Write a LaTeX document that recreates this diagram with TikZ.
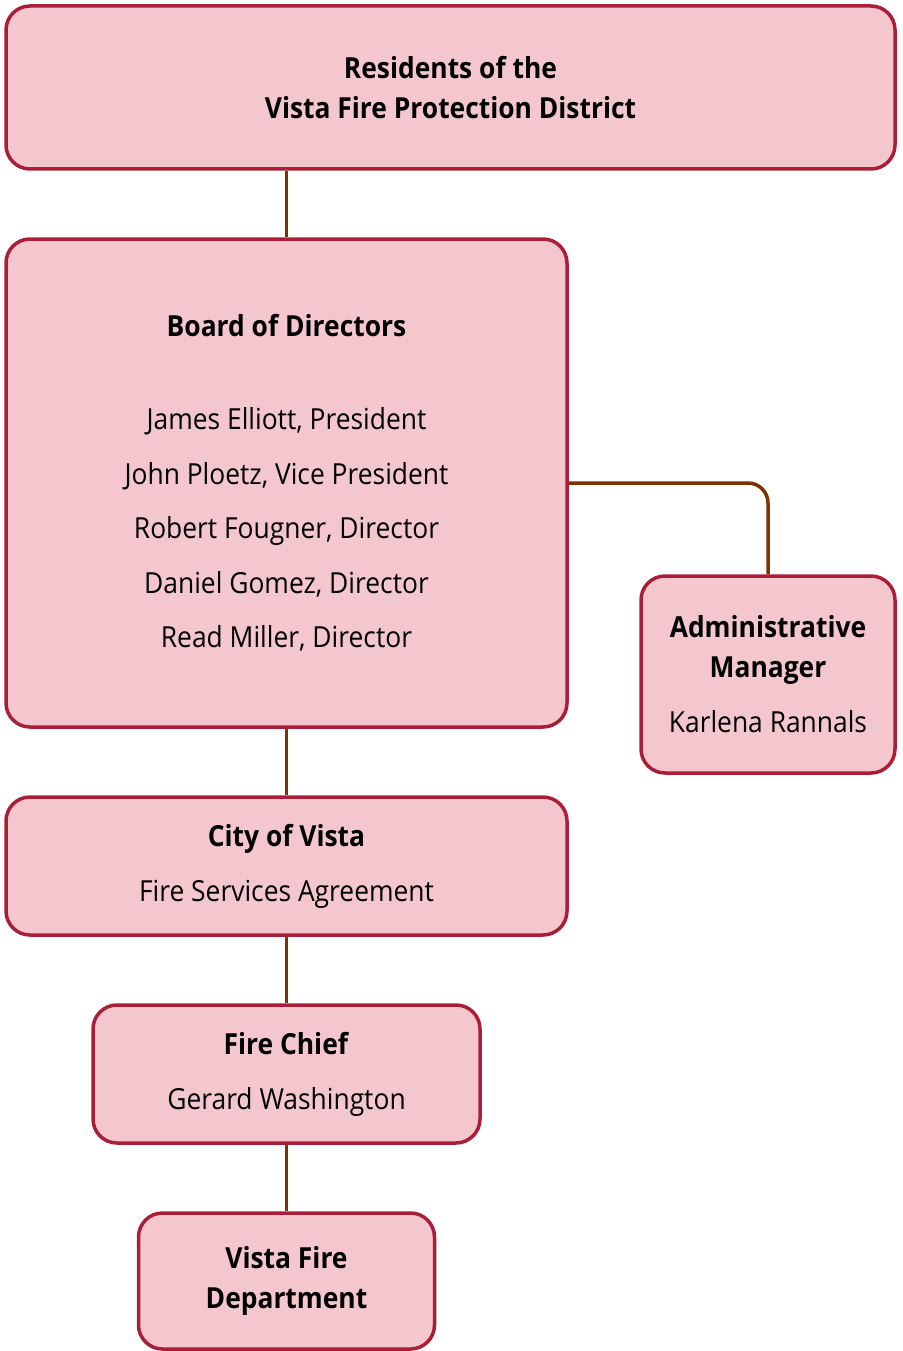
\documentclass[tikz,border=0pt]{standalone}
\usepackage{fontspec}
\setmainfont{Open Sans}[FakeStretch=0.91]
\usepackage{tikz}
\usetikzlibrary{positioning}
\usepackage{xcolor}

\definecolor{boxfill}{RGB}{244,199,207}
\definecolor{boxline}{RGB}{170,30,55}
\definecolor{linkcol}{RGB}{125,50,0}

\begin{document}
\begin{tikzpicture}[
        x=1pt, y=-1pt,
        node distance=66.5pt,
        box/.style={rectangle,draw=boxline,fill=boxfill,line width=3.5pt,rounded corners=24pt,align=center,
            font=\fontsize{29}{40}\selectfont,text=black,inner sep=0pt},
        link/.style={draw=linkcol,line width=3.5pt}
    ]
        \useasboundingbox (0,0) rectangle (902,1351);

        \node[box, minimum width=889pt, minimum height=163pt] (residents) at (450.5,87.5)
            {\textbf{Residents of the}\\\textbf{Vista Fire Protection District}};
        \node[box, minimum width=561pt, minimum height=488pt] (board) at (286.5,483)
            {\textbf{Board of Directors}\\[53pt]
             James Elliott, President\\[14.5pt]
             John Ploetz, Vice President\\[14.5pt]
             Robert Fougner, Director\\[14.5pt]
             Daniel Gomez, Director\\[14.5pt]
             Read Miller, Director};
        \node[box, minimum width=254pt, minimum height=197pt] (admin) at (768,674.5)
            {\textbf{Administrative}\\\textbf{Manager}\\[15pt]Karlena Rannals};
        \node[box, minimum width=561pt, minimum height=138pt, below=of board] (city)
            {\textbf{City of Vista}\\[15pt]Fire Services Agreement};
        \node[box, minimum width=387pt, minimum height=138pt, below=of city] (chief)
            {\textbf{Fire Chief}\\[15pt]Gerard Washington};
        \node[box, minimum width=296pt, minimum height=136pt, below=of chief] (dept)
            {\textbf{Vista Fire}\\\textbf{Department}};

        \draw[link] (residents.south -| board.north) -- (board.north);
        \draw[link, rounded corners=20pt] (board.east) -| (admin.north);
        \draw[link] (board.south) -- (city.north);
        \draw[link] (city.south) -- (chief.north);
        \draw[link] (chief.south) -- (dept.north);
\end{tikzpicture}
\end{document}
